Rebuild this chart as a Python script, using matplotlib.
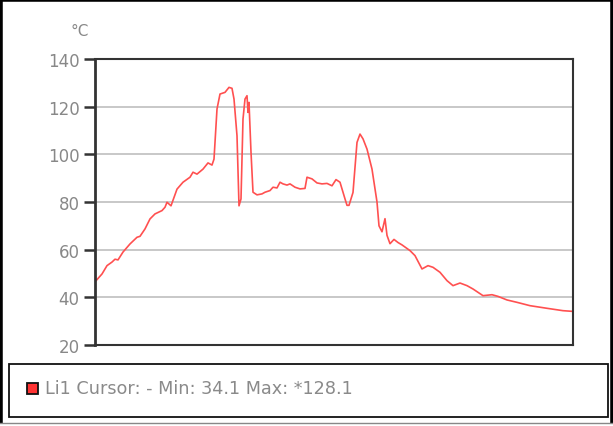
import matplotlib
matplotlib.use("Agg")
from matplotlib import pyplot as plt
from matplotlib.patches import Rectangle

# sample position (arbitrary time steps) and temperature in degC
t = [0, 7, 12, 17, 20, 23, 28, 35, 42, 45, 50, 55, 60, 67, 70, 72, 76, 82, 88, 95,
     98, 102, 108, 113, 117, 119, 122, 125, 130, 134, 137, 139, 142, 144, 146, 148,
     150, 152, 153, 154, 156, 158, 162, 167, 170, 175, 178, 182, 185, 188, 192, 195,
     200, 205, 210, 212, 217, 222, 227, 232, 237, 241, 245, 248, 250, 252, 254, 258,
     262, 265, 268, 272, 277, 282, 284, 287, 290, 292, 295, 299, 303, 307, 315, 320,
     327, 333, 338, 345, 352, 358, 365, 372, 378, 388, 397, 403, 412, 422, 435, 452,
     468, 478]
temp = [46.5, 49.8, 53.3, 54.8, 56.0, 55.7, 59.0, 62.4, 65.2, 65.6, 68.7, 72.9, 75.0,
        76.4, 77.8, 79.9, 78.4, 85.4, 88.3, 90.4, 92.5, 91.7, 93.8, 96.4, 95.5, 98.0,
        119.0, 125.3, 126.0, 128.1, 127.7, 123.2, 107.8, 78.4, 81.3, 114.8, 123.2, 124.6,
        117.6, 121.8, 100.9, 84.1, 83.0, 83.4, 84.1, 84.8, 86.2, 85.9, 88.3, 87.6, 87.1,
        87.6, 86.2, 85.5, 85.7, 90.4, 89.7, 88.0, 87.6, 87.8, 86.8, 89.4, 88.3, 84.1,
        81.3, 78.6, 78.6, 84.0, 105.0, 108.5, 106.5, 102.2, 93.8, 80.0, 70.0, 67.5, 73.0,
        66.0, 62.5, 64.3, 63.0, 62.0, 59.6, 57.5, 51.9, 53.3, 52.6, 50.5, 47.0, 44.9,
        46.0, 44.9, 43.5, 40.7, 41.1, 40.4, 38.9, 37.9, 36.5, 35.4, 34.4, 34.1]
yticks = [20, 40, 60, 80, 100, 120, 140]
legend_text = "Li1 Cursor: - Min: 34.1 Max: *128.1"

W, H = 613, 427
plt.rcParams['font.family'] = ['DejaVu Sans']
fig = plt.figure(figsize=(W / 100, H / 100), dpi=100)

ax = fig.add_axes([95 / W, 1 - 346 / H, 478 / W, 286 / H])
ax.plot(t, temp, color='#ff5050', lw=1.2)
ax.set_xlim(0, 478)
ax.set_ylim(20, 140)
ax.set_yticks(yticks)
ax.set_xticks([])
ax.grid(axis='y', color='#c4c4c4', lw=1.3)
ax.set_axisbelow(True)
for s in ax.spines.values():
    s.set_color('#333333')
    s.set_linewidth(1.5)
ax.spines['left'].set_linewidth(2)
ax.tick_params(axis='y', length=8, width=1.8, color='#333333', labelcolor='#888888',
               labelsize=12, pad=3, direction='out')

fig.text(70 / W, 1 - 31 / H, "°C", color='#888888', fontsize=11, va='center')

# legend box
fig.patches.append(Rectangle((9 / W, 1 - 418 / H), 599 / W, 53 / H, transform=fig.transFigure,
                             fill=False, ec='#111111', lw=1.3))
fig.patches.append(Rectangle((27 / W, 1 - 395 / H), 11 / W, 11 / H, transform=fig.transFigure,
                             fc='#ff3333', ec='#111111', lw=1.3))
fig.text(45 / W, 1 - 389 / H, legend_text, color='#8a8a8a', fontsize=12.7, va='center')

# outer frame
fig.patches.append(Rectangle((0, 0), 1, 1, transform=fig.transFigure, fill=False,
                             ec='#000000', lw=4))
fig.patches.append(Rectangle((0, 0), 1, 3 / H, transform=fig.transFigure,
                             fc='#ffffff', ec='none'))
fig.lines.append(plt.Line2D([0, 1], [3 / H, 3 / H], transform=fig.transFigure,
                            color='#888888', lw=1))

fig.savefig("out.png", dpi=100)
